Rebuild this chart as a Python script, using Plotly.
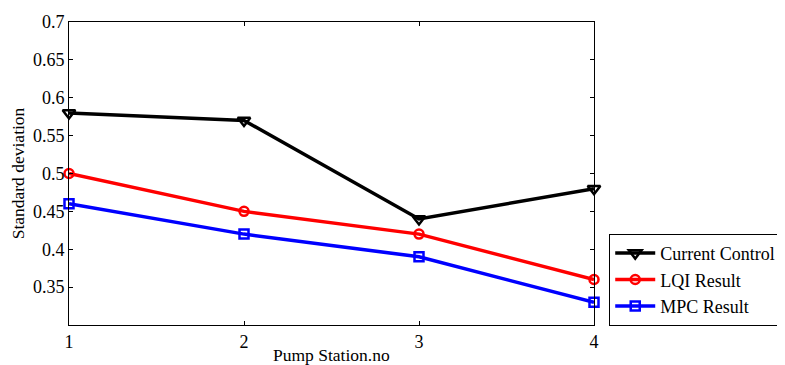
import plotly.graph_objects as go

stations = [1, 2, 3, 4]
current_control = [0.58, 0.57, 0.44, 0.48]
lqi_result = [0.50, 0.45, 0.42, 0.36]
mpc_result = [0.46, 0.42, 0.39, 0.33]
y_ticks = [0.35, 0.4, 0.45, 0.5, 0.55, 0.6, 0.65, 0.7]
y_tick_labels = ["0.35", "0.4", "0.45", "0.5", "0.55", "0.6", "0.65", "0.7"]
x_title = "Pump Station.no"
y_title = "Standard deviation"

font = "Liberation Serif"

fig = go.Figure()
series = [
    ("Current Control", current_control, "black", "triangle-down-open", 11),
    ("LQI Result", lqi_result, "red", "circle-open", 9),
    ("MPC Result", mpc_result, "blue", "square-open", 9),
]
for name, vals, col, sym, sz in series:
    fig.add_trace(go.Scatter(
        x=stations, y=vals, name=name, mode="lines+markers",
        line=dict(color=col, width=3.5),
        marker=dict(symbol=sym, size=sz, color=col, line=dict(color=col, width=2.5)),
        cliponaxis=False,
    ))

# page body has an 8px default margin; figure is sized to fit the window
fig.update_layout(
    width=777, height=357,
    margin=dict(l=61, r=191, t=14, b=40, autoexpand=False),
    paper_bgcolor="white", plot_bgcolor="white",
    font=dict(family=font, size=18, color="black"),
    showlegend=True,
    legend=dict(
        x=1.029, xanchor="left", y=-0.003, yanchor="bottom",
        bordercolor="black", borderwidth=1, bgcolor="white",
        font=dict(family=font, size=18, color="black"),
        tracegroupgap=0, itemwidth=40,
    ),
    xaxis=dict(
        range=[1, 4], tickvals=stations, ticktext=[str(s) for s in stations],
        ticks="inside", ticklen=4, tickcolor="black",
        showline=True, linecolor="black", linewidth=1, mirror="ticks",
        showgrid=False, zeroline=False, automargin=False,
        tickfont=dict(family=font, size=18),
    ),
    yaxis=dict(
        range=[0.3, 0.7], tickvals=y_ticks, ticktext=y_tick_labels,
        ticks="inside", ticklen=4, tickcolor="black",
        showline=True, linecolor="black", linewidth=1, mirror="ticks",
        showgrid=False, zeroline=False, automargin=False,
        title=dict(text=y_title, font=dict(family=font, size=17.5), standoff=15),
        tickfont=dict(family=font, size=18),
    ),
    annotations=[dict(
        text=x_title, xref="paper", yref="paper", x=0.5, y=-0.099,
        xanchor="center", yanchor="middle", showarrow=False,
        font=dict(family=font, size=17.5, color="black"),
    )],
)

fig.write_html("out.html")
